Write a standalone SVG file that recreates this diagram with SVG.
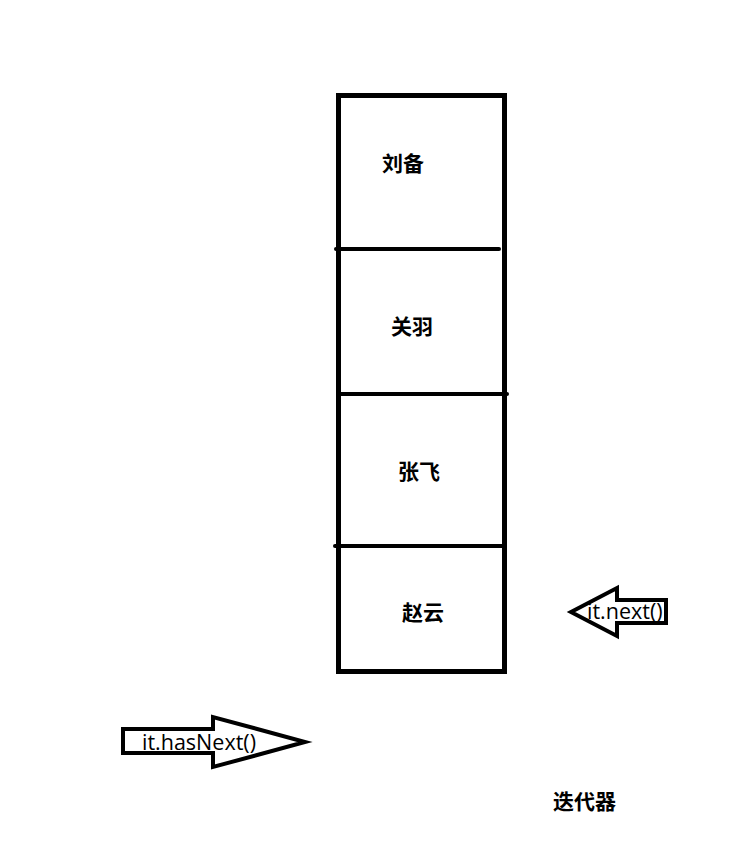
<svg xmlns="http://www.w3.org/2000/svg" width="740" height="856" viewBox="0 0 740 856">
<style>
.box{fill:none;stroke:#000;stroke-width:5}
.div{stroke:#000;stroke-width:4;stroke-linecap:round}
.arr{fill:#fff;stroke:#000;stroke-width:4;stroke-linejoin:miter}
.lbl{font-family:"Microsoft YaHei","Noto Sans CJK SC",sans-serif;font-weight:bold;font-size:21px;fill:#000}
.code{font-family:"Segoe UI","Open Sans","Noto Sans",sans-serif;font-size:21.5px;fill:#000}
</style>
<rect width="740" height="856" fill="#fff"/>
<g id="stack">
<rect class="box" x="338.5" y="95.5" width="166" height="576"/>
</g>
<g id="connectors">
<line class="div" x1="336" y1="249" x2="499" y2="249"/>
<line class="div" x1="338" y1="394" x2="507" y2="394"/>
<line class="div" x1="335" y1="546" x2="502" y2="546"/>
</g>
<g id="n1"><text class="lbl" x="382" y="171">刘备</text></g>
<g id="n2"><text class="lbl" x="391" y="334">关羽</text></g>
<g id="n3"><text class="lbl" x="398" y="479">张飞</text></g>
<g id="n4"><text class="lbl" x="402" y="620">赵云</text></g>
<g id="next">
<polygon class="arr" points="571,612 617,588 617,600 666,600 666,623 617,623 617,636"/>
<text class="code" x="587" y="619">it.next()</text>
</g>
<g id="hasNext">
<polygon class="arr" points="123,729 213,729 213,717 305,742 213,767 213,753 123,753"/>
<text class="code" x="142" y="750">it.hasNext()</text>
</g>
<g id="iter"><text class="lbl" x="553" y="809">迭代器</text></g>
</svg>
